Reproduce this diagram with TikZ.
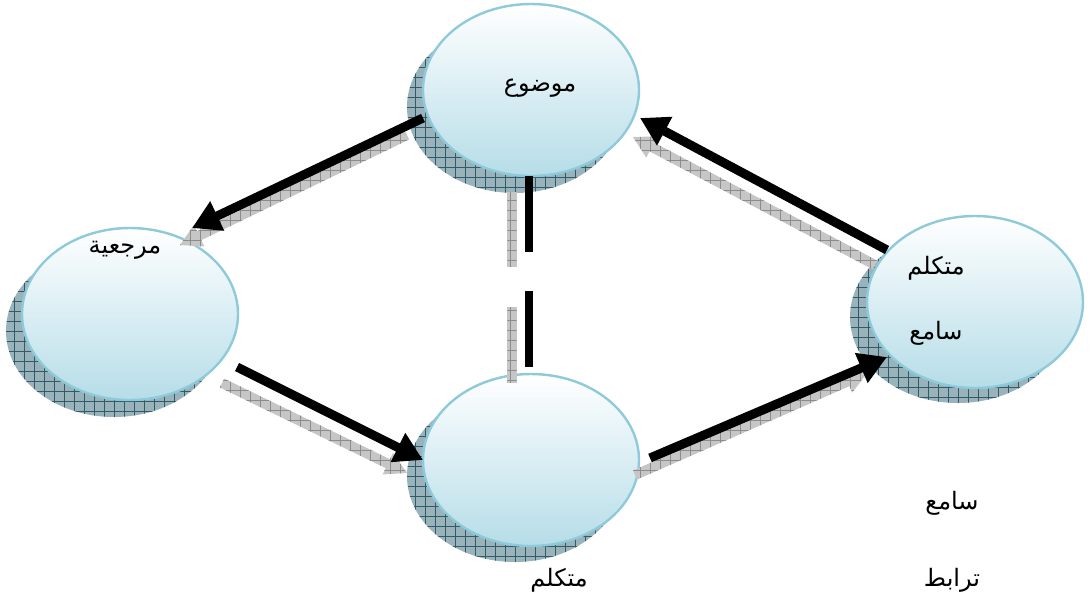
\documentclass[tikz,border=0pt]{standalone}
\usepackage{fontspec}
\usetikzlibrary{shapes.geometric,arrows.meta,calc}
\TeXXeTstate=1
\newfontfamily\arabicfont[Script=Arabic]{DejaVu Sans}
\definecolor{ellborder}{HTML}{8FCADA}
\definecolor{ellmid}{HTML}{E6F3F7}
\definecolor{ellbottom}{HTML}{B6DDE8}
\definecolor{shfillc}{HTML}{9AB2BA}
\definecolor{shgridc}{HTML}{2E5C6A}
\definecolor{ashfillc}{HTML}{C6C6C6}
\definecolor{ashgridc}{HTML}{8C8C8C}
\tikzset{
  mainell/.style={ellipse, minimum width=162pt, minimum height=129pt, inner sep=0pt,
    draw=ellborder, line width=1.8pt, top color=white, middle color=ellmid, bottom color=ellbottom},
  shadell/.style={ellipse, minimum width=162pt, minimum height=129pt, inner sep=0pt,
    fill=shfillc, path picture={\draw[shgridc, line width=0.6pt, step=7.5pt]
      (path picture bounding box.south west) grid (path picture bounding box.north east);}},
  arrshade/.style={fill=ashfillc, path picture={\draw[ashgridc, line width=0.5pt, step=7.5pt]
      (path picture bounding box.south west) grid (path picture bounding box.north east);}},
  blackarrow/.style={line width=6.8pt, -{Triangle[length=21pt,width=23pt]}},
  blackbar/.style={line width=6.4pt},
  label/.style={font=\arabicfont\fontsize{18}{20}\selectfont, inner sep=0pt},
}
\newcommand\shadarrow[2]{%
  \coordinate (hb) at ($(#2)!16pt!(#1)$);
  \fill[arrshade] ($(#1)!3.7pt!90:(#2)$) -- ($(hb)!3.7pt!-90:(#1)$) -- ($(hb)!9pt!-90:(#1)$)
    -- (#2) -- ($(hb)!9pt!90:(#1)$) -- ($(hb)!3.7pt!90:(#1)$) -- ($(#1)!3.7pt!-90:(#2)$) -- cycle;}
\newcommand\shadbar[2]{%
  \fill[arrshade] ($(#1)!3.4pt!90:(#2)$) -- ($(#2)!3.4pt!-90:(#1)$) -- ($(#2)!3.4pt!90:(#1)$)
    -- ($(#1)!3.4pt!-90:(#2)$) -- cycle;}
\begin{document}
\begin{tikzpicture}[x=0.75pt, y=-0.75pt]
\path[use as bounding box] (0,0) rectangle (1092,608);
% shadows
\node[shadell] (topS) at (515,107) {};
\node[shadell] (leftS) at (114,331) {};
\node[shadell] (rightS) at (958,317) {};
\node[shadell] (botS) at (515,476) {};
% ellipses
\node[mainell] (top) at (531,90) {};
\node[mainell] (left) at (130,314) {};
\node[mainell] (right) at (975,302) {};
\node[mainell] (bot) at (531,460) {};
% arrow endpoints
\coordinate (a1) at (423,118); \coordinate (a2) at (192,228);
\coordinate (a1s) at (407,135); \coordinate (a2s) at (180,245);
\coordinate (b1) at (237,367); \coordinate (b2) at (423,460);
\coordinate (b1s) at (222,383); \coordinate (b2s) at (407,473);
\coordinate (c1) at (650,458); \coordinate (c2) at (887,357);
\coordinate (c1s) at (635,475); \coordinate (c2s) at (867,373);
\coordinate (d1) at (887,250); \coordinate (d2) at (640,118);
\coordinate (d1s) at (875,265); \coordinate (d2s) at (633,137);
\coordinate (v1) at (529,176); \coordinate (v2) at (529,252);
\coordinate (v3) at (529,291); \coordinate (v4) at (529,367);
\coordinate (v1s) at (512,192); \coordinate (v2s) at (512,267);
\coordinate (v3s) at (512,307); \coordinate (v4s) at (512,383);
% shadow arrows
\shadarrow{a1s}{a2s}
\shadarrow{b1s}{b2s}
\shadarrow{c1s}{c2s}
\shadarrow{d1s}{d2s}
\shadbar{v1s}{v2s}
\shadbar{v3s}{v4s}
% black arrows
\draw[blackarrow] (a1) -- (a2);
\draw[blackarrow] (b1) -- (b2);
\draw[blackarrow] (c1) -- (c2);
\draw[blackarrow] (d1) -- (d2);
\draw[blackbar] (v1) -- (v2);
\draw[blackbar] (v3) -- (v4);
% labels
\node[label] (t1) at (540,88) {\beginR موضوع\endR};
\node[label] (t2) at (125,250) {\beginR مرجعية\endR};
\node[label] (t3) at (936,268) {\beginR متكلم\endR};
\node[label] (t4) at (936,333) {\beginR سامع\endR};
\node[label] (t5) at (559,580) {\beginR متكلم\endR};
\node[label] (t6) at (952,503) {\beginR سامع\endR};
\node[label] (t7) at (952,580) {\beginR ترابط\endR};
\end{tikzpicture}
\end{document}
